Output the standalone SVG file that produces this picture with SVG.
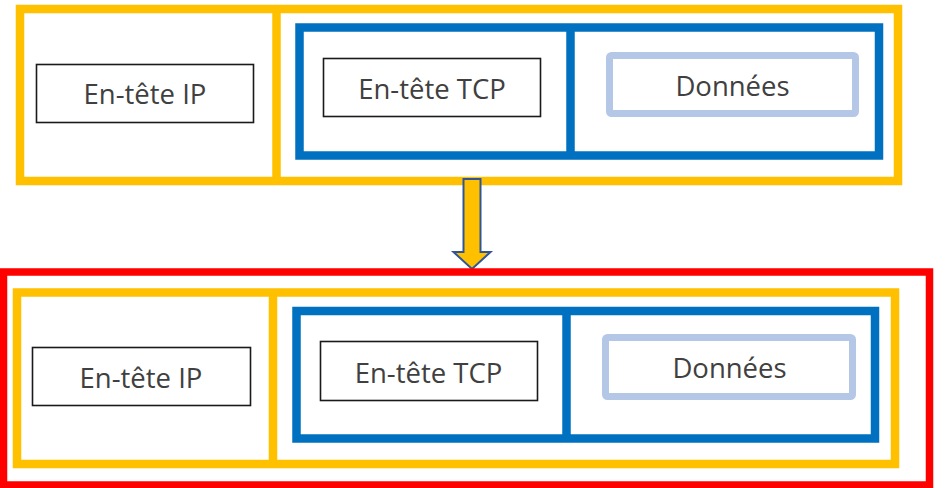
<svg xmlns="http://www.w3.org/2000/svg" width="946" height="488" viewBox="0 0 946 488">
<style>
.ip{fill:none;stroke:#FFC000;stroke-width:8.5}
.tcp{fill:none;stroke:#0070C0;stroke-width:8.5}
.box{fill:#FFFFFF;stroke:#1a1a1a;stroke-width:1.6}
.data{fill:#FFFFFF;stroke:#B4C7E7;stroke-width:7}
.red{fill:none;stroke:#FF0000;stroke-width:7.5}
.lbl{font-family:"Open Sans","Liberation Sans",sans-serif;font-size:27.5px;fill:#404040;text-anchor:middle}
</style>
<rect width="946" height="488" fill="#FFFFFF"/>
<g id="packet-top">
  <rect class="ip" x="20" y="9" width="878" height="172"/>
  <line class="ip" x1="276.5" y1="9" x2="276.5" y2="181" stroke-width="7"/>
  <g id="segment-top">
    <rect class="tcp" x="299.5" y="27.5" width="579.5" height="128"/>
    <line class="tcp" x1="570.5" y1="27.5" x2="570.5" y2="155.5" stroke-width="7"/>
  </g>
  <g id="ip-header-top">
    <rect class="box" x="36.5" y="64.5" width="217" height="58"/>
    <text class="lbl" x="145" y="104">En-tête IP</text>
  </g>
  <g id="tcp-header-top">
    <rect class="box" x="323.5" y="58.5" width="217" height="58"/>
    <text class="lbl" x="432" y="99">En-tête TCP</text>
  </g>
  <g id="data-top">
    <rect class="data" x="609.5" y="55.5" width="246" height="58" rx="2"/>
    <text class="lbl" x="732.5" y="95.5">Données</text>
  </g>
</g>
<g id="connectors">
  <path d="M463.5 179 H480.5 V252 H490.5 L472 269 L453.5 252 H463.5 Z" fill="#FFC000" stroke="#2F5597" stroke-width="2" stroke-linejoin="miter"/>
</g>
<g id="frame-bottom">
  <rect class="red" x="3.5" y="272" width="926" height="213"/>
</g>
<g id="packet-bottom">
  <rect class="ip" x="17" y="292.5" width="878" height="171.5"/>
  <line class="ip" x1="273" y1="292.5" x2="273" y2="464" stroke-width="7"/>
  <g id="segment-bottom">
    <rect class="tcp" x="296.5" y="311" width="578.5" height="127.5"/>
    <line class="tcp" x1="566.5" y1="311" x2="566.5" y2="438.5" stroke-width="7"/>
  </g>
  <g id="ip-header-bottom">
    <rect class="box" x="32.5" y="347.5" width="218" height="58"/>
    <text class="lbl" x="141" y="388">En-tête IP</text>
  </g>
  <g id="tcp-header-bottom">
    <rect class="box" x="320.5" y="341.5" width="217" height="59"/>
    <text class="lbl" x="428.5" y="383">En-tête TCP</text>
  </g>
  <g id="data-bottom">
    <rect class="data" x="605.5" y="337.5" width="247" height="59" rx="2"/>
    <text class="lbl" x="729.5" y="378">Données</text>
  </g>
</g>
</svg>
